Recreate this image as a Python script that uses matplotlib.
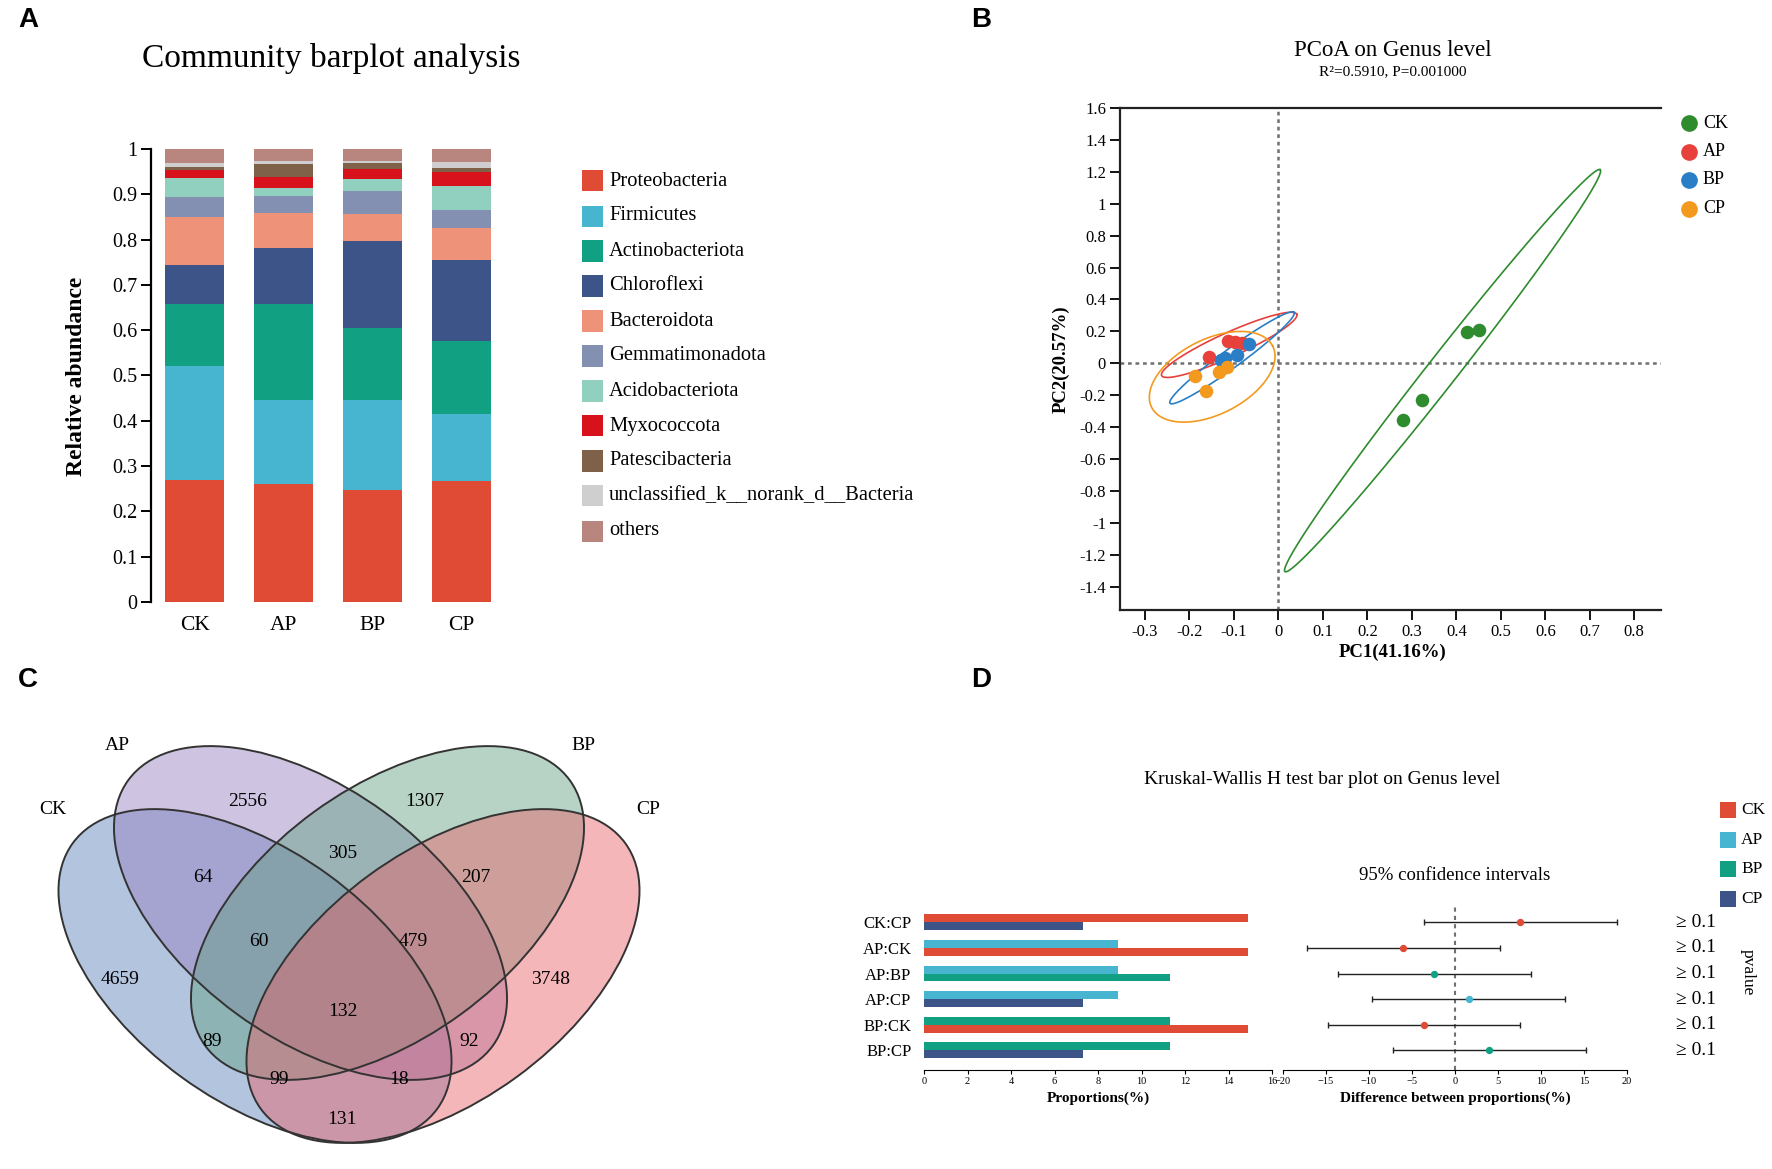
import numpy as np
import matplotlib
matplotlib.use('Agg')
import matplotlib.pyplot as plt
from matplotlib.patches import Ellipse, Rectangle
from matplotlib.lines import Line2D

W, H = 1772, 1169
plt.rcParams['font.family'] = ['Liberation Serif', 'DejaVu Serif']

# ---------------- data ----------------
# A: community barplot
groups = ['CK', 'AP', 'BP', 'CP']
phyla = ['Proteobacteria', 'Firmicutes', 'Actinobacteriota', 'Chloroflexi', 'Bacteroidota',
         'Gemmatimonadota', 'Acidobacteriota', 'Myxococcota', 'Patescibacteria',
         'unclassified_k__norank_d__Bacteria', 'others']
phylum_colors = ['#E04B35', '#48B5D0', '#12A083', '#3C5488', '#EE9379', '#8490B2',
                 '#91CFBE', '#D8121C', '#7E6148', '#CFCFCF', '#B8867F']
abund_ck = [0.270, 0.252, 0.136, 0.087, 0.105, 0.043, 0.043, 0.018, 0.006, 0.010, 0.030]
abund_ap = [0.260, 0.186, 0.212, 0.124, 0.077, 0.037, 0.019, 0.023, 0.029, 0.007, 0.026]
abund_bp = [0.248, 0.197, 0.160, 0.191, 0.061, 0.050, 0.027, 0.021, 0.013, 0.005, 0.027]
abund_cp = [0.267, 0.148, 0.161, 0.179, 0.071, 0.039, 0.053, 0.032, 0.009, 0.013, 0.028]

# B: PCoA
group_colors = ['#2E8B2E', '#E8403A', '#2A7EC6', '#F39A1E']
ck_pc1 = [0.425, 0.450, 0.322, 0.280]
ck_pc2 = [0.194, 0.208, -0.233, -0.354]
ap_pc1 = [-0.157, -0.113, -0.097, -0.082]
ap_pc2 = [0.038, 0.138, 0.135, 0.128]
bp_pc1 = [-0.129, -0.120, -0.094, -0.065]
bp_pc2 = [0.021, 0.035, 0.054, 0.121]
cp_pc1 = [-0.187, -0.163, -0.133, -0.115]
cp_pc2 = [-0.081, -0.175, -0.056, -0.021]
# confidence ellipses: centre, semi axes (x units), on-screen tilt (deg)
ell_cx = [0.369, -0.1106, -0.1042, -0.1488]
ell_cy = [-0.046, 0.1156, 0.0344, -0.0844]
ell_a = [0.5754, 0.1669, 0.173, 0.1526]
ell_b = [0.0339, 0.0274, 0.021, 0.0845]
ell_tilt = [52.0, 24.5, 36.3, 27.0]

# C: Venn counts
venn_counts = ['4659', '2556', '1307', '3748', '64', '305', '207', '60', '479',
               '132', '89', '92', '99', '18', '131']

# D: Kruskal-Wallis
comparisons = [('CK', 'CP'), ('AP', 'CK'), ('AP', 'BP'), ('AP', 'CP'), ('BP', 'CK'), ('BP', 'CP')]
kw_prop = [14.9, 8.9, 11.3, 7.3]          # CK, AP, BP, CP
ci_low = [-3.6, -17.2, -13.6, -9.6, -14.8, -7.2]
ci_high = [18.8, 5.2, 8.8, 12.8, 7.6, 15.2]
pvalues = ['≥ 0.1'] * 6

fig = plt.figure(figsize=(W / 100, H / 100), dpi=100)


def fx(x):
    return x / W


def fy(y):
    return 1 - y / H


def add_ax(l, t, r, b):
    return fig.add_axes([l / W, 1 - b / H, (r - l) / W, (b - t) / H])


def fmt(v):
    return f'{round(v, 1) + 0.0:g}'


for lab, (px, py) in zip('ABCD', [(28, 20), (981, 20), (28, 680), (981, 680)]):
    fig.text(fx(px), fy(py), lab, fontsize=20, fontweight='bold', family='Liberation Sans',
             ha='center', va='center')

# ---------------- A ----------------
axA = add_ax(151, 149, 506, 602)
x = np.arange(len(groups))
abund = np.array([abund_ck, abund_ap, abund_bp, abund_cp]).T
bottom = np.zeros(len(groups))
for vals, col in zip(abund, phylum_colors):
    axA.bar(x, vals, bottom=bottom, width=0.66, color=col, linewidth=0)
    bottom += vals
axA.set_xlim(-0.49, 3.5)
axA.set_ylim(0, 1)
for s in ['top', 'right', 'bottom']:
    axA.spines[s].set_visible(False)
axA.spines['left'].set_linewidth(1.6)
yt = np.arange(0, 1.01, 0.1)
axA.set_yticks(yt)
axA.set_yticklabels([fmt(v) for v in yt])
axA.tick_params(axis='y', direction='out', length=7, width=1.4, labelsize=14.5, pad=3)
axA.set_xticks(x)
axA.set_xticklabels(groups)
axA.tick_params(axis='x', length=0, labelsize=15.5, pad=10)
fig.text(fx(77), fy(376), 'Relative abundance', rotation=90, fontsize=17, fontweight='bold',
         ha='center', va='center')
fig.text(fx(331), fy(59), 'Community barplot analysis', fontsize=24, ha='center', va='center')
for i, (name, col) in enumerate(zip(phyla, phylum_colors)):
    yc = 181 + i * 35
    fig.add_artist(Rectangle((fx(582), fy(yc + 10.5)), 21 / W, 21 / H,
                             transform=fig.transFigure, color=col, linewidth=0))
    fig.text(fx(609), fy(yc), name, fontsize=14.8, ha='left', va='center')

# ---------------- B ----------------
axB = add_ax(1120, 108, 1661, 610)
axB.set_xlim(-0.356, 0.86)
axB.set_ylim(-1.546, 1.6)
yr = 0.36  # y units per x unit on screen
t = np.linspace(0, 2 * np.pi, 300)
for cx, cy, a, b, tl, col in zip(ell_cx, ell_cy, ell_a, ell_b, ell_tilt, group_colors):
    ph = np.deg2rad(tl)
    ex = cx + a * np.cos(t) * np.cos(ph) - b * np.sin(t) * np.sin(ph)
    ey = cy + (a * np.cos(t) * np.sin(ph) + b * np.sin(t) * np.cos(ph)) / yr
    axB.plot(ex, ey, color=col, lw=1.2, zorder=2)
axB.axvline(0, color='#707070', lw=1.8, ls=(0, (1.5, 1.5)), zorder=1)
axB.axhline(0, color='#707070', lw=1.8, ls=(0, (1.5, 1.5)), zorder=1)
pcs = [(ck_pc1, ck_pc2), (ap_pc1, ap_pc2), (bp_pc1, bp_pc2), (cp_pc1, cp_pc2)]
for (p1, p2), col in zip(pcs, group_colors):
    axB.scatter(p1, p2, s=95, color=col, linewidths=0, zorder=3)
xt = np.arange(-0.3, 0.81, 0.1)
axB.set_xticks(xt)
axB.set_xticklabels([fmt(v) for v in xt])
ytb = np.arange(-1.4, 1.61, 0.2)
axB.set_yticks(ytb)
axB.set_yticklabels([fmt(v) for v in ytb])
axB.tick_params(direction='out', length=7, width=1.3, labelsize=12, pad=3)
axB.spines['right'].set_visible(False)
for s in ['left', 'top', 'bottom']:
    axB.spines[s].set_linewidth(1.6)
    axB.spines[s].set_color('#222222')
fig.text(fx(1393), fy(652), 'PC1(41.16%)', fontsize=13.5, fontweight='bold', ha='center', va='center')
fig.text(fx(1061), fy(359), 'PC2(20.57%)', fontsize=13.5, fontweight='bold', rotation=90,
         ha='center', va='center')
fig.text(fx(1393), fy(50), 'PCoA on Genus level', fontsize=16.5, ha='center', va='center')
fig.text(fx(1393), fy(72), 'R²=0.5910, P=0.001000', fontsize=11, ha='center', va='center')
for i, (g, col) in enumerate(zip(groups, group_colors)):
    yy = 123 + i * 28.5
    fig.add_artist(Line2D([fx(1689)], [fy(yy)], marker='o', markersize=11, color=col,
                          linestyle='none', transform=fig.transFigure))
    fig.text(fx(1703), fy(yy), g, fontsize=13, ha='left', va='center')

# ---------------- C ----------------
axC = fig.add_axes([0, 0, 700 / W, 529 / H])
axC.set_xlim(0, 700)
axC.set_ylim(1169, 640)
axC.axis('off')
venn_centers = [(255, 976), (310.5, 913), (387.5, 913), (443, 976)]
venn_angles = [36.1, 36.1, -36.1, -36.1]
venn_fill = ['#587CBA', '#947CBE', '#619F80', '#E95F66']
for (cx, cy), ang, col in zip(venn_centers, venn_angles, venn_fill):
    axC.add_patch(Ellipse((cx, cy), 451, 250, angle=ang, facecolor=col, alpha=0.45, linewidth=0))
for (cx, cy), ang in zip(venn_centers, venn_angles):
    axC.add_patch(Ellipse((cx, cy), 451, 250, angle=ang, fill=False, edgecolor='#333333', linewidth=1.4))
venn_pos = [(120, 980), (248, 802), (425, 802), (551, 979), (203, 878), (343, 853), (476, 878),
            (259, 942), (413, 942), (343, 1011), (212, 1042), (469, 1042), (279, 1080),
            (399, 1080), (342, 1119)]
for (px, py), c in zip(venn_pos, venn_counts):
    axC.text(px, py, c, fontsize=14, ha='center', va='center')
for (px, py), g in zip([(53, 810), (117, 746), (583, 745), (648, 809)], groups):
    axC.text(px, py, g, fontsize=14, ha='center', va='center')

# ---------------- D ----------------
rows = np.arange(len(comparisons))[::-1]
prop = dict(zip(groups, kw_prop))
gcol = dict(zip(groups, ['#E04B35', '#48B5D0', '#12A083', '#3C5488']))
axD1 = add_ax(924, 905, 1272, 1070)
axD2 = add_ax(1283, 905, 1627, 1070)
bh = 0.31
for r, (g1, g2) in zip(rows, comparisons):
    axD1.barh(r + bh / 2, prop[g1], height=bh, color=gcol[g1], linewidth=0)
    axD1.barh(r - bh / 2, prop[g2], height=bh, color=gcol[g2], linewidth=0)
for ax in (axD1, axD2):
    ax.set_ylim(-0.77, 5.68)
    for s in ['top', 'right', 'left']:
        ax.spines[s].set_visible(False)
    ax.spines['bottom'].set_linewidth(0.8)
    ax.tick_params(axis='x', direction='out', length=3, width=0.8, labelsize=7.5, pad=2)
axD1.set_xlim(0, 16)
axD1.set_xticks(np.arange(0, 17, 2))
axD1.set_yticks(rows)
axD1.set_yticklabels([f'{a}:{b}' for a, b in comparisons])
axD1.tick_params(axis='y', length=0, labelsize=12, pad=9)
axD2.set_xlim(-20, 20)
axD2.set_xticks(np.arange(-20, 21, 5))
axD2.set_yticks([])
axD2.axvline(0, color='#707070', lw=1.5, ls=(0, (2, 2)))
diffs = [prop[a] - prop[b] for a, b in comparisons]
for r, d, lo, hi, (g1, g2) in zip(rows, diffs, ci_low, ci_high, comparisons):
    axD2.errorbar(d, r, xerr=[[d - lo], [hi - d]], fmt='none', ecolor='#222222',
                  elinewidth=1.0, capsize=2.5, capthick=1.0)
    axD2.scatter([d], [r], s=28, color=gcol[g1] if d > 0 else gcol[g2], zorder=3, linewidths=0)
fig.text(fx(1098), fy(1098), 'Proportions(%)', fontsize=11, fontweight='bold', ha='center', va='center')
fig.text(fx(1455), fy(1098), 'Difference between proportions(%)', fontsize=11, fontweight='bold',
         ha='center', va='center')
fig.text(fx(1322), fy(779), 'Kruskal-Wallis H test bar plot on Genus level', fontsize=14,
         ha='center', va='center')
fig.text(fx(1455), fy(876), '95% confidence intervals', fontsize=13.5, ha='center', va='center')
for r, pv in zip(rows, pvalues):
    fig.text(fx(1676), fy(922.3 + (5 - r) * 25.6), pv, fontsize=14, ha='left', va='center')
fig.text(fx(1748), fy(972), 'pvalue', fontsize=12.5, rotation=-90, ha='center', va='center')
for i, (g, col) in enumerate(zip(groups, gcol.values())):
    yy = 810 + i * 29.7
    fig.add_artist(Rectangle((fx(1720), fy(yy + 8)), 16 / W, 16 / H, transform=fig.transFigure,
                             color=col, linewidth=0))
    fig.text(fx(1741), fy(yy), g, fontsize=12.5, ha='left', va='center')

fig.savefig('out.png', dpi=100, facecolor='white')
